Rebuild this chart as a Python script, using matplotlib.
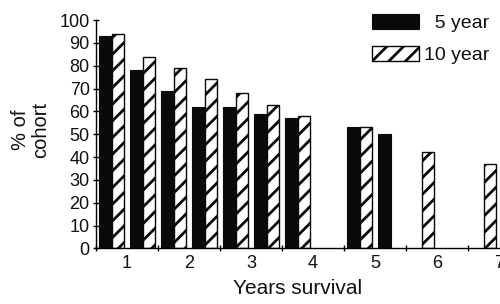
import numpy as np
import matplotlib.pyplot as plt

# survival time points (years) and % of cohort surviving
years = [0.75, 1.25, 1.75, 2.25, 2.75, 3.25, 3.75, 4.75, 5.25, 5.75, 6.75]
five_year = [93, 78, 69, 62, 62, 59, 57, 53, 50, np.nan, np.nan]
ten_year = [94, 84, 79, 74, 68, 63, 58, 53, np.nan, 42, 37]
year_ticks = [1, 2, 3, 4, 5, 6, 7]

plt.rcParams['font.family'] = ['Liberation Sans', 'DejaVu Sans']
plt.rcParams['hatch.linewidth'] = 2.0
ink = '#111111'

fig = plt.figure(figsize=(5, 3.04), dpi=100)
ax = fig.add_axes([0.192, 0.183, 0.808, 0.751])

x = np.array(years)
w = 0.2
ax.bar(x - w / 2, five_year, width=w, color='#0a0a0a', edgecolor='#0a0a0a', lw=0.8, label='  5 year')
ax.bar(x + w / 2, ten_year, width=w, color='white', edgecolor='#0a0a0a', lw=1.0, hatch='//', label='10 year')

ax.set_xlim(0.5, 7.016)
ax.set_ylim(0, 100)
ax.set_yticks(range(0, 101, 10))
ax.set_xticks(year_ticks)
ax.set_xticks(np.arange(0.5, 7.0, 1.0), minor=True)
ax.tick_params(axis='x', which='major', length=0, labelsize=13, pad=5, labelcolor=ink)
ax.tick_params(axis='x', which='minor', length=5, direction='inout', width=1)
ax.tick_params(axis='y', length=5, direction='inout', labelsize=13, pad=2, width=1, labelcolor=ink)

for s in ['top', 'right']:
    ax.spines[s].set_visible(False)
for s in ['left', 'bottom']:
    ax.spines[s].set_linewidth(1.0)

ax.set_xlabel('Years survival', fontsize=15, color=ink)
ax.xaxis.set_label_coords(0.5, -0.135)
ax.set_ylabel('% of\ncohort', fontsize=14.5, linespacing=1.05, color=ink)
ax.yaxis.set_label_coords(-0.114, 0.52)

leg = ax.legend(loc='upper left', bbox_to_anchor=(0.683, 1.027), frameon=False, fontsize=14,
                handlelength=2.4, handleheight=0.85, handletextpad=0.3, labelspacing=0.68,
                borderpad=0, borderaxespad=0)
for t in leg.get_texts():
    t.set_color(ink)

plt.savefig('out.png', dpi=100)
